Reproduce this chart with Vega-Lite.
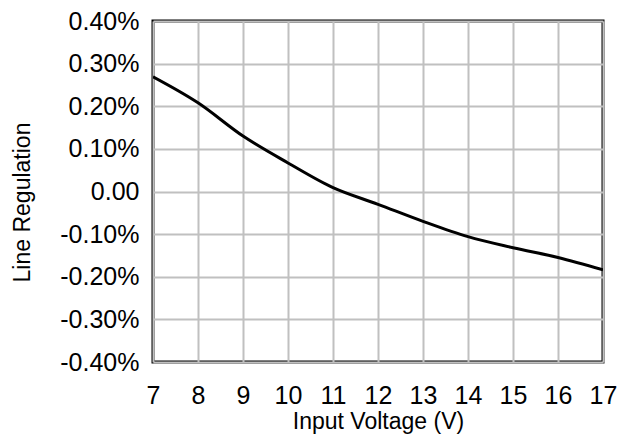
{
  "$schema": "https://vega.github.io/schema/vega-lite/v6.json",
  "width": 450,
  "height": 341,
  "autosize": {"type": "none"},
  "padding": {"left": 153, "top": 21, "right": 30, "bottom": 75},
  "background": "white",
  "config": {
    "font": "Liberation Sans",
    "view": {"stroke": "black", "strokeWidth": 3},
    "axis": {
      "gridColor": "#c0c0c0",
      "gridWidth": 2,
      "gridOpacity": 1,
      "domain": false,
      "ticks": false,
      "labelFont": "Liberation Sans",
      "labelFontSize": 25,
      "labelColor": "black",
      "titleFont": "Liberation Sans",
      "titleFontSize": 23,
      "titleFontWeight": "normal",
      "titleColor": "black"
    }
  },
  "data": {
    "values": [
      {"v": 7, "reg": 0.269},
      {"v": 8, "reg": 0.208},
      {"v": 9, "reg": 0.130},
      {"v": 10, "reg": 0.067},
      {"v": 11, "reg": 0.009},
      {"v": 12, "reg": -0.030},
      {"v": 13, "reg": -0.070},
      {"v": 14, "reg": -0.106},
      {"v": 15, "reg": -0.132},
      {"v": 16, "reg": -0.155},
      {"v": 17, "reg": -0.184}
    ]
  },
  "mark": {"type": "line", "color": "black", "strokeWidth": 3, "interpolate": "monotone", "clip": true},
  "encoding": {
    "x": {
      "field": "v",
      "type": "quantitative",
      "scale": {"domain": [7, 17], "nice": false, "zero": false},
      "axis": {
        "values": [7, 8, 9, 10, 11, 12, 13, 14, 15, 16, 17],
        "title": "Input Voltage (V)",
        "labelPadding": 21,
        "titlePadding": 2,
        "labelFlush": false
      }
    },
    "y": {
      "field": "reg",
      "type": "quantitative",
      "scale": {"domain": [-0.4, 0.4], "nice": false},
      "axis": {
        "values": [-0.4, -0.3, -0.2, -0.1, 0, 0.1, 0.2, 0.3, 0.4],
        "labelExpr": "abs(datum.value) < 1e-9 ? '0.00' : replace(format(datum.value, '.2f'), '\u2212', '-') + '%'",
        "title": "Line Regulation",
        "labelPadding": 14,
        "titlePadding": 25,
        "titleY": 181,
        "labelFlush": false
      }
    }
  }
}
